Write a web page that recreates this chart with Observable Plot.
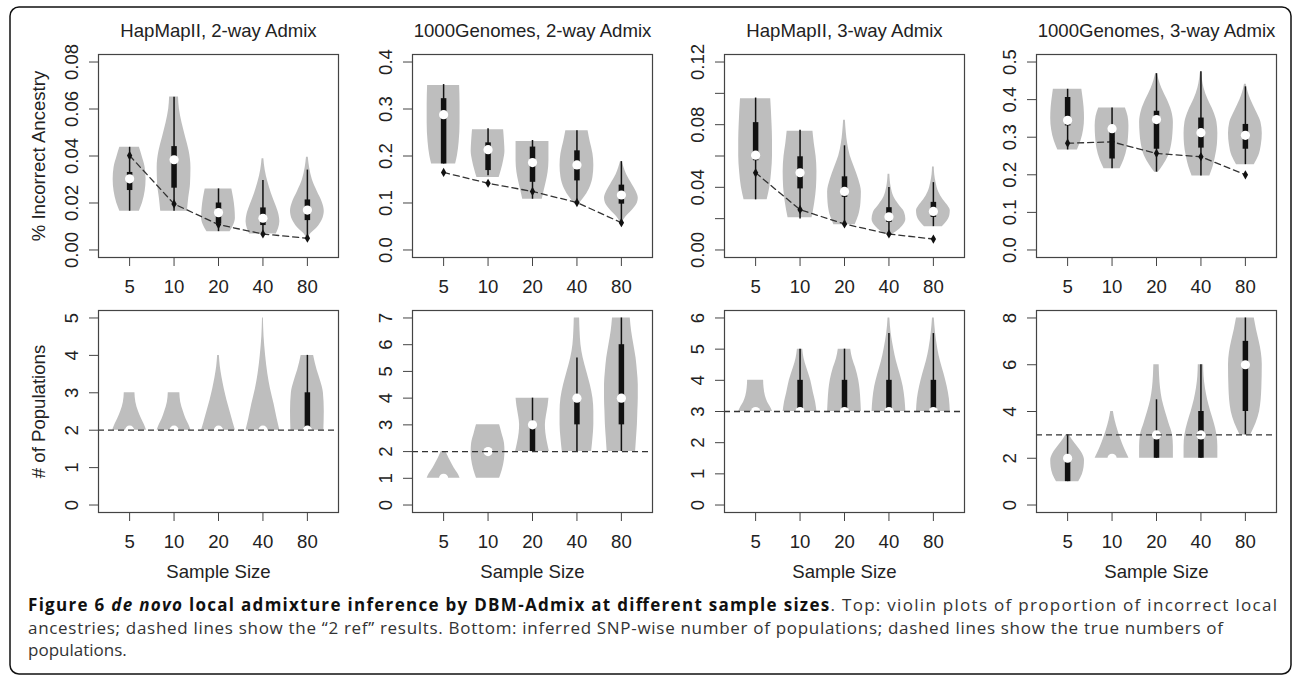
<!DOCTYPE html>
<html><head><meta charset="utf-8">
<script src="https://cdn.jsdelivr.net/npm/d3@7"></script>
<script src="https://cdn.jsdelivr.net/npm/@observablehq/plot@0.6"></script>
<style>
html,body{margin:0;padding:0;background:#fff;}
#root{position:relative;width:1293px;height:676px;overflow:hidden;background:#fff;}
#root svg{position:absolute;}
</style></head><body><div id="root"></div>
<script>
// ---------- data ----------
const sampleSizes = [5, 10, 20, 40, 80];
const topTitles = ["HapMapII, 2-way Admix", "1000Genomes, 2-way Admix", "HapMapII, 3-way Admix", "1000Genomes, 3-way Admix"];
const topYLabel = "% Incorrect Ancestry";
const bottomYLabel = "# of Populations";
const xLabel = "Sample Size";

const topYMax = [0.08, 0.4, 0.12, 0.5];
const topYTicks = [
  [0, 0.02, 0.04, 0.06, 0.08],
  [0, 0.1, 0.2, 0.3, 0.4],
  [0, 0.02, 0.04, 0.06, 0.08, 0.10, 0.12],
  [0, 0.1, 0.2, 0.3, 0.4, 0.5]
];
const topYTickLabels = [
  ["0.00", "0.02", "0.04", "0.06", "0.08"],
  ["0.0", "0.1", "0.2", "0.3", "0.4"],
  ["0.00", "", "0.04", "", "0.08", "", "0.12"],
  ["0.0", "0.1", "0.2", "0.3", "0.4", "0.5"]
];
const bottomYMax = [5, 7, 6, 8];
const bottomYTicks = [
  [0, 1, 2, 3, 4, 5],
  [0, 1, 2, 3, 4, 5, 6, 7],
  [0, 1, 2, 3, 4, 5, 6],
  [0, 2, 4, 6, 8]
];

// box statistics per violin: [lower whisker, q1, median, q3, upper whisker]
const topStats = [
  [[0.0165,0.0253,0.0303,0.0330,0.0437],[0.0165,0.0263,0.0384,0.0440,0.0650],[0.0078,0.0110,0.0159,0.0200,0.0260],[0.0068,0.0104,0.0135,0.0179,0.0296],[0.0050,0.0125,0.0170,0.0213,0.0340]],
  [[0.183,0.183,0.288,0.322,0.352],[0.158,0.169,0.2135,0.228,0.258],[0.108,0.144,0.186,0.219,0.233],[0.0975,0.147,0.181,0.211,0.254],[0.058,0.0975,0.117,0.138,0.188]],
  [[0.032,0.057,0.0605,0.0813,0.097],[0.0198,0.039,0.0493,0.0595,0.0765],[0.0161,0.0336,0.0374,0.0467,0.0665],[0.0096,0.0176,0.0212,0.027,0.0399],[0.0149,0.0208,0.0246,0.0304,0.043]],
  [[0.266,0.33,0.345,0.4056,0.4275],[0.216,0.242,0.3226,0.325,0.378],[0.207,0.268,0.347,0.369,0.469],[0.197,0.271,0.312,0.351,0.474],[0.227,0.268,0.305,0.334,0.434]]
];
// "2 ref" results (dashed lines, top row)
const twoRef = [
  [0.0402, 0.0196, 0.0108, 0.0068, 0.0050],
  [0.165, 0.142, 0.1245, 0.101, 0.058],
  [0.0493, 0.0257, 0.0166, 0.0102, 0.0070],
  [0.284, 0.2876, 0.257, 0.248, 0.200]
];
const bottomStats = [
  [[2,2,2,2,2],[2,2,2,2,2],[2,2,2,2,2],[2,2,2,2,2],[2,2,2,3,4]],
  [[1,1,1,1,1],[2,2,2,2,2],[2,2,3,3,4],[2,3,4,4,5.5],[2,3,4,6,7]],
  [[3,3,3,3,3],[3,3,3,4,5],[3,3,3,4,5],[3,3,3,4,5.5],[3,3,3,4,5.5]],
  [[1,1,2,2,3],[2,2,2,2,2],[2,2,3,3,4.5],[2,2,3,4,6],[3,4,6,7,8]]
];
// true numbers of populations (dashed lines, bottom row)
const truePops = [2, 2, 3, 3];

// violin outlines: [value, half-width]
const topProfiles = [
  [
    [[0.0165,0.22],[0.020,0.29],[0.025,0.35],[0.030,0.37],[0.035,0.35],[0.040,0.28],[0.0437,0.22]],
    [[0.0165,0.30],[0.022,0.33],[0.028,0.37],[0.035,0.38],[0.042,0.34],[0.048,0.26],[0.054,0.18],[0.060,0.12],[0.0651,0.10]],
    [[0.0078,0.26],[0.0105,0.34],[0.0135,0.38],[0.0175,0.37],[0.022,0.34],[0.026,0.30]],
    [[0.0068,0.30],[0.0090,0.35],[0.0120,0.38],[0.0150,0.36],[0.0190,0.29],[0.0240,0.19],[0.0290,0.11],[0.0340,0.05],[0.0388,0.02]],
    [[0.0050,0.02],[0.0070,0.08],[0.0095,0.22],[0.0130,0.34],[0.0165,0.38],[0.0200,0.34],[0.0250,0.22],[0.0300,0.11],[0.0350,0.05],[0.0395,0.02]]
  ],
  [
    [[0.183,0.27],[0.20,0.31],[0.23,0.35],[0.27,0.37],[0.31,0.37],[0.350,0.36]],
    [[0.154,0.25],[0.17,0.30],[0.19,0.35],[0.21,0.38],[0.23,0.37],[0.256,0.35]],
    [[0.108,0.22],[0.125,0.26],[0.145,0.31],[0.165,0.35],[0.19,0.37],[0.231,0.37]],
    [[0.0975,0.04],[0.11,0.15],[0.13,0.28],[0.155,0.36],[0.18,0.38],[0.205,0.36],[0.23,0.30],[0.254,0.25]],
    [[0.058,0.02],[0.07,0.10],[0.085,0.25],[0.10,0.36],[0.11,0.38],[0.125,0.33],[0.14,0.24],[0.16,0.12],[0.175,0.06],[0.188,0.02]]
  ],
  [
    [[0.032,0.26],[0.04,0.32],[0.05,0.36],[0.06,0.38],[0.07,0.38],[0.08,0.37],[0.0966,0.34]],
    [[0.0205,0.27],[0.03,0.33],[0.04,0.37],[0.05,0.38],[0.06,0.36],[0.068,0.32],[0.0758,0.29]],
    [[0.0161,0.24],[0.022,0.32],[0.03,0.37],[0.037,0.38],[0.045,0.32],[0.053,0.22],[0.06,0.13],[0.068,0.07],[0.075,0.04],[0.0828,0.02]],
    [[0.0096,0.04],[0.0115,0.16],[0.015,0.30],[0.0195,0.38],[0.024,0.35],[0.029,0.22],[0.034,0.11],[0.040,0.05],[0.0484,0.02]],
    [[0.0149,0.20],[0.018,0.30],[0.022,0.37],[0.025,0.38],[0.028,0.33],[0.032,0.22],[0.037,0.12],[0.043,0.06],[0.048,0.03],[0.053,0.02]]
  ],
  [
    [[0.266,0.22],[0.29,0.30],[0.32,0.36],[0.35,0.38],[0.38,0.37],[0.41,0.34],[0.4275,0.32]],
    [[0.216,0.18],[0.24,0.27],[0.27,0.34],[0.30,0.37],[0.33,0.38],[0.355,0.36],[0.378,0.30]],
    [[0.207,0.04],[0.225,0.15],[0.25,0.27],[0.28,0.34],[0.31,0.37],[0.34,0.38],[0.37,0.34],[0.40,0.24],[0.43,0.12],[0.45,0.06],[0.469,0.02]],
    [[0.197,0.20],[0.22,0.27],[0.25,0.33],[0.28,0.37],[0.31,0.38],[0.34,0.36],[0.37,0.28],[0.40,0.16],[0.43,0.07],[0.455,0.03],[0.474,0.01]],
    [[0.227,0.20],[0.25,0.30],[0.28,0.36],[0.31,0.38],[0.34,0.35],[0.37,0.24],[0.40,0.12],[0.42,0.06],[0.441,0.02]]
  ]
];
const bottomProfiles = [
  [
    [[2,0.38],[2.15,0.33],[2.3,0.27],[2.5,0.20],[2.75,0.14],[3,0.12]],
    [[2,0.38],[2.15,0.33],[2.3,0.27],[2.5,0.21],[2.75,0.15],[3,0.13]],
    [[2,0.38],[2.2,0.33],[2.5,0.26],[2.8,0.19],[3.1,0.13],[3.4,0.08],[3.7,0.04],[4,0.02]],
    [[2,0.38],[2.3,0.32],[2.7,0.25],[3.1,0.17],[3.5,0.11],[4,0.06],[4.5,0.025],[5,0.01]],
    [[2,0.37],[2.5,0.38],[3,0.36],[3.3,0.30],[3.6,0.22],[4,0.14]]
  ],
  [
    [[1,0.37],[1.15,0.33],[1.3,0.27],[1.5,0.20],[1.75,0.12],[2,0.05]],
    [[1,0.26],[1.3,0.32],[1.7,0.37],[2,0.38],[2.3,0.37],[2.7,0.31],[3,0.26]],
    [[2,0.38],[2.3,0.34],[2.7,0.30],[3,0.29],[3.3,0.31],[3.7,0.35],[4,0.37]],
    [[2,0.33],[2.5,0.36],[3,0.38],[3.5,0.38],[4,0.36],[4.5,0.30],[5,0.22],[5.5,0.14],[6,0.09],[6.5,0.07],[7,0.06]],
    [[2,0.32],[2.5,0.34],[3,0.36],[3.5,0.37],[4,0.38],[4.5,0.38],[5,0.36],[5.5,0.33],[6,0.28],[6.5,0.23],[7,0.20]]
  ],
  [
    [[3,0.38],[3.15,0.33],[3.3,0.27],[3.5,0.22],[3.75,0.19],[4,0.18]],
    [[3,0.38],[3.3,0.35],[3.6,0.30],[4,0.24],[4.4,0.15],[4.7,0.09],[5,0.06]],
    [[3,0.38],[3.3,0.37],[3.7,0.35],[4,0.32],[4.4,0.25],[4.7,0.18],[5,0.14]],
    [[3,0.38],[3.4,0.36],[3.8,0.32],[4.2,0.25],[4.6,0.17],[5,0.11],[5.5,0.05],[6,0.02]],
    [[3,0.38],[3.4,0.36],[3.8,0.31],[4.2,0.24],[4.6,0.16],[5,0.10],[5.5,0.05],[6,0.02]]
  ],
  [
    [[1,0.25],[1.3,0.33],[1.6,0.37],[1.9,0.38],[2.2,0.33],[2.5,0.22],[2.8,0.10],[3,0.04]],
    [[2,0.38],[2.2,0.33],[2.5,0.26],[2.8,0.20],[3.2,0.13],[3.6,0.07],[4,0.03]],
    [[2,0.38],[2.5,0.38],[3,0.36],[3.5,0.28],[4,0.20],[4.5,0.13],[5,0.09],[5.5,0.07],[6,0.06]],
    [[2,0.38],[2.5,0.38],[3,0.36],[3.5,0.30],[4,0.22],[4.5,0.15],[5,0.10],[5.5,0.07],[6,0.06]],
    [[3,0.12],[3.5,0.24],[4,0.32],[5,0.37],[6,0.38],[6.5,0.36],[7,0.31],[7.5,0.25],[8,0.20]]
  ]
];

const captionLines = [
  [["Figure 6 ", "bold", "normal"], ["de novo", "bold", "italic"], [" local admixture inference by DBM-Admix at different sample sizes", "bold", "normal"], [". Top: violin plots of proportion of incorrect local", "normal", "normal"]],
  [["ancestries; dashed lines show the \u201c2 ref\u201d results. Bottom: inferred SNP-wise number of populations; dashed lines show the true numbers of", "normal", "normal"]],
  [["populations.", "normal", "normal"]]
];

// ---------- layout ----------
const root = document.getElementById("root");
const colLefts = [98, 412, 724, 1036];
const frameW = 240;
const FONT = "'Liberation Sans', Arial, Helvetica, sans-serif";

function panel({col, row, ymax, ticks, tickLabels, stats, profiles, ref, truth, title}) {
  const marginLeft = col === 0 ? 98 : 70;
  const marginRight = 2;
  const marginTop = row === 0 ? 54 : 8;
  const frameH = row === 0 ? 203 : 202;
  const marginBottom = row === 0 ? 45 : 80;
  const labelMap = new Map(ticks.map((t, i) => [t, tickLabels ? tickLabels[i] : String(t)]));
  const violins = profiles.flatMap((p, i) => p.map(([y, w]) => ({k: i, y, x1: i + 1 - w, x2: i + 1 + w})));
  const boxes = stats.map(([lo, q1, med, q3, hi], i) => ({pos: i + 1, lo, q1, med, q3, hi}));
  const marks = [
    Plot.areaX(violins, {y: "y", x1: "x1", x2: "x2", z: "k", fill: "#bebebe", curve: "monotone-y"}),
    Plot.ruleX(boxes, {x: "pos", y1: "lo", y2: "hi", stroke: "#111", strokeWidth: 1.5}),
    Plot.ruleX(boxes, {x: "pos", y1: "q1", y2: "q3", stroke: "#111", strokeWidth: 5.5}),
    Plot.dot(boxes, {x: "pos", y: "med", r: 4.6, fill: "white", stroke: null})
  ];
  if (ref) {
    const refRows = ref.map((v, i) => ({pos: i + 1, v}));
    marks.push(Plot.line(refRows, {x: "pos", y: "v", stroke: "#333", strokeWidth: 1.3, strokeDasharray: "6,4"}));
    marks.push(Plot.dot(refRows, {x: "pos", y: "v", symbol: "diamond", r: 2.8, fill: "#111", stroke: null}));
  }
  if (truth != null) {
    marks.push(Plot.ruleY([truth], {stroke: "#333", strokeWidth: 1.3, strokeDasharray: "6,4"}));
  }
  marks.push(Plot.frame({stroke: "#444", strokeWidth: 1.2}));
  marks.push(Plot.axisY({ticks, tickFormat: d => labelMap.get(d), tickRotate: -90, tickSize: 9, tickPadding: 12, label: null, stroke: "#444"}));
  marks.push(Plot.axisX({ticks: [1, 2, 3, 4, 5], tickFormat: d => String(sampleSizes[d - 1]), tickSize: 9, tickPadding: 13, label: null, stroke: "#444"}));
  if (title) marks.push(Plot.text([title], {text: d => d, frameAnchor: "top", dy: -18, lineAnchor: "bottom", textAnchor: "middle", fill: "#222"}));
  if (col === 0) marks.push(Plot.text([row === 0 ? topYLabel : bottomYLabel], {text: d => d, frameAnchor: "left", rotate: -90, dx: -54, lineAnchor: "bottom", textAnchor: "middle", fill: "#222"}));
  if (row === 1) marks.push(Plot.text([xLabel], {text: d => d, frameAnchor: "bottom", dy: 65, lineAnchor: "bottom", textAnchor: "middle", fill: "#222"}));

  const svg = Plot.plot({
    width: marginLeft + frameW + marginRight,
    height: marginTop + frameH + marginBottom,
    marginLeft, marginRight, marginTop, marginBottom,
    x: {domain: [0.3, 5.7]},
    y: {domain: [-0.04 * ymax, 1.04 * ymax]},
    style: {fontFamily: FONT, fontSize: "18.6px", color: "#222", background: "transparent", overflow: "visible", maxWidth: "none"},
    marks
  });
  svg.style.left = (colLefts[col] - marginLeft) + "px";
  svg.style.top = (row === 0 ? 0 : 302) + "px";
  root.appendChild(svg);
}

for (let c = 0; c < 4; c++) {
  panel({col: c, row: 0, ymax: topYMax[c], ticks: topYTicks[c], tickLabels: topYTickLabels[c],
         stats: topStats[c], profiles: topProfiles[c], ref: twoRef[c], title: topTitles[c]});
  panel({col: c, row: 1, ymax: bottomYMax[c], ticks: bottomYTicks[c], tickLabels: null,
         stats: bottomStats[c], profiles: bottomProfiles[c], truth: truePops[c]});
}

// ---------- border and caption ----------
const ns = "http://www.w3.org/2000/svg";
const deco = document.createElementNS(ns, "svg");
deco.setAttribute("width", 1293); deco.setAttribute("height", 676);
deco.style.left = "0px"; deco.style.top = "0px"; deco.style.pointerEvents = "none";
const border = document.createElementNS(ns, "rect");
Object.entries({x: 10, y: 7, width: 1281, height: 667, rx: 9, fill: "none", stroke: "#111", "stroke-width": 1.5})
  .forEach(([k, v]) => border.setAttribute(k, v));
deco.appendChild(border);
const baselines = [611, 634, 656];
const lineLengths = [1249, 1195, null];
captionLines.forEach((parts, li) => {
  const t = document.createElementNS(ns, "text");
  t.setAttribute("x", 28); t.setAttribute("y", baselines[li]);
  t.setAttribute("font-family", "'Open Sans', 'Noto Sans', sans-serif");
  t.setAttribute("font-size", 17);
  t.setAttribute("fill", "#333");
  if (lineLengths[li]) { t.setAttribute("textLength", lineLengths[li]); t.setAttribute("lengthAdjust", "spacing"); }
  parts.forEach(([s, w, st]) => {
    const sp = document.createElementNS(ns, "tspan");
    sp.setAttribute("font-weight", w); sp.setAttribute("font-style", st);
    if (w === "bold") sp.setAttribute("fill", "#111");
    sp.textContent = s;
    t.appendChild(sp);
  });
  deco.appendChild(t);
});
root.insertBefore(deco, root.firstChild);
</script>
</body></html>
